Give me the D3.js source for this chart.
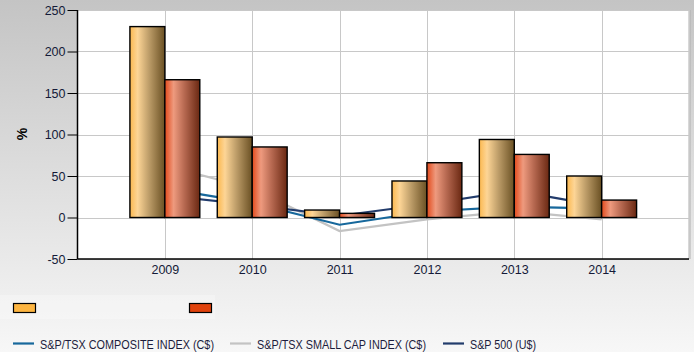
<!DOCTYPE html>
<html><head><meta charset="utf-8">
<script src="https://cdn.jsdelivr.net/npm/d3@7/dist/d3.min.js"></script>
<style>html,body{margin:0;padding:0;}svg{display:block;}</style>
</head><body><svg id="c" width="694" height="352"></svg>
<script>
const categories = ["2009","2010","2011","2012","2013","2014"];
const fundA = [230, 97, 9, 44, 94, 50];
const fundB = [166, 85, 5, 66, 76, 21];
const composite = [35.1, 17.6, -8.7, 7.2, 13.0, 10.6];
const smallCap = [62.4, 35.1, -16.4, -2.2, 7.6, -2.3];
const sp500 = [26.5, 15.1, 2.1, 16.0, 32.4, 13.7];
const yTicks = [-50, 0, 50, 100, 150, 200, 250];
const lineLegend = ["S&P/TSX COMPOSITE INDEX (C$)", "S&P/TSX SMALL CAP INDEX (C$)", "S&P 500 (U$)"];

const svg = d3.select("#c");
const W = 694, H = 352;
const L = 77.5, R = 689, T = 10, B = 259;

const defs = svg.append("defs");
const bg = defs.append("linearGradient").attr("id","bg").attr("x1",0).attr("y1",0).attr("x2",0).attr("y2",1);
bg.append("stop").attr("offset","0").attr("stop-color","#c4c4c4");
bg.append("stop").attr("offset","1").attr("stop-color","#f7f7f7");
function barGrad(id, stops){
  const g = defs.append("linearGradient").attr("id",id).attr("x1",0).attr("y1",0).attr("x2",1).attr("y2",0);
  stops.forEach(s=>g.append("stop").attr("offset",s[0]).attr("stop-color",s[1]));
}
barGrad("gA", [[0,"#fbb84f"],[0.22,"#fdd596"],[0.55,"#bc9c68"],[1,"#6a5023"]]);
barGrad("gB", [[0,"#e24a1c"],[0.25,"#ee9a7e"],[0.55,"#b86a52"],[1,"#6a2812"]]);

svg.append("rect").attr("width",W).attr("height",H).attr("fill","url(#bg)");
// faint legend boxes
svg.append("rect").attr("x",0).attr("y",295).attr("width",215).attr("height",24).attr("fill","#fff").attr("opacity",0.25);

const x = d3.scaleLinear().domain([0, categories.length+1]).range([L, R]);
const step = x(1)-x(0);
const y = d3.scaleLinear().domain([-50, 250]).range([B, T]);

// plot area
svg.append("rect").attr("x",L).attr("y",T).attr("width",R-L).attr("height",B-T).attr("fill","#fff");
svg.append("line").attr("x1",R+0.5).attr("x2",R+0.5).attr("y1",T).attr("y2",B).attr("stroke","#b0b0b0").attr("stroke-width",2);

// grid
svg.append("g").selectAll("line").data(yTicks).join("line")
  .attr("x1",L).attr("x2",R).attr("y1",d=>Math.round(y(d))+0.5).attr("y2",d=>Math.round(y(d))+0.5)
  .attr("stroke","#c8c8c8").attr("stroke-width",1);
const vgrid = d3.range(1, categories.length+2);
svg.append("g").selectAll("line").data(vgrid).join("line")
  .attr("x1",d=>Math.round(x(d))+0.5).attr("x2",d=>Math.round(x(d))+0.5).attr("y1",T).attr("y2",B)
  .attr("stroke","#c8c8c8").attr("stroke-width",1);

// lines (behind bars)
const lineGen = d3.line().x((d,i)=>x(i+1)).y(d=>y(d));
[[smallCap,"#c3c3c3"],[composite,"#17689c"],[sp500,"#223c6c"]].forEach(([s,c])=>{
  svg.append("path").attr("d",lineGen(s)).attr("fill","none").attr("stroke",c).attr("stroke-width",2.2);
});

// bars
const bw = step*0.4;
svg.append("g").selectAll("rect").data(fundA).join("rect")
  .attr("x",(d,i)=>x(i+1)-bw).attr("width",bw)
  .attr("y",d=>Math.min(y(d),y(0))).attr("height",d=>Math.abs(y(d)-y(0)))
  .attr("fill","url(#gA)").attr("stroke","#000").attr("stroke-width",1.4);
svg.append("g").selectAll("rect").data(fundB).join("rect")
  .attr("x",(d,i)=>x(i+1)).attr("width",bw)
  .attr("y",d=>Math.min(y(d),y(0))).attr("height",d=>Math.abs(y(d)-y(0)))
  .attr("fill","url(#gB)").attr("stroke","#000").attr("stroke-width",1.4);

// axes
const yAxis = d3.axisLeft(y).tickValues(yTicks).tickFormat(d=>String(d)).tickSize(10).tickPadding(2);
const ya = svg.append("g").attr("transform",`translate(${L},0)`).call(yAxis);
ya.select(".domain").attr("stroke","#000").attr("stroke-width",1.5).attr("d",`M0,${T}V${B}`);
ya.selectAll(".tick line").attr("stroke","#000");
ya.selectAll("text").attr("font-family","Liberation Sans, Arial, sans-serif").attr("font-size",12.5).attr("fill","#141a38");

const xAxis = d3.axisBottom(x).tickValues(d3.range(1,categories.length+1)).tickFormat(d=>categories[d-1]).tickSize(0).tickPadding(6);
const xa = svg.append("g").attr("transform",`translate(0,${B})`).call(xAxis);
xa.select(".domain").attr("stroke","#000").attr("stroke-width",1.5).attr("d",`M${L},0H${R}`);
xa.selectAll("text").attr("font-family","Liberation Sans, Arial, sans-serif").attr("font-size",12.5).attr("fill","#141a38");

svg.append("text").attr("transform","translate(27,134) rotate(-90)").attr("text-anchor","middle")
  .attr("font-family","Liberation Sans, Arial, sans-serif").attr("font-weight","bold").attr("font-size",14).attr("fill","#000").text("%");

// legend swatches
[["#fdb541",13.5],["#e0420c",189.5]].forEach(([c,xx])=>{
  svg.append("rect").attr("x",xx).attr("y",303.5).attr("width",22).attr("height",9).attr("fill",c).attr("stroke","#000").attr("stroke-width",1.2);
});
// line legend
const lx = [[13,40,174],[230,257,169],[443,470,66]];
const lc = ["#17689c","#c3c3c3","#223c6c"];
lineLegend.forEach((t,i)=>{
  svg.append("line").attr("x1",lx[i][0]).attr("x2",lx[i][0]+21).attr("y1",343.5).attr("y2",343.5).attr("stroke",lc[i]).attr("stroke-width",2.2);
  svg.append("text").attr("x",lx[i][1]).attr("y",348.5).attr("font-family","Liberation Sans, Arial, sans-serif")
    .attr("font-size",12.5).attr("fill","#1c1c3c").attr("textLength",lx[i][2]).attr("lengthAdjust","spacingAndGlyphs").text(t);
});
</script></body></html>
